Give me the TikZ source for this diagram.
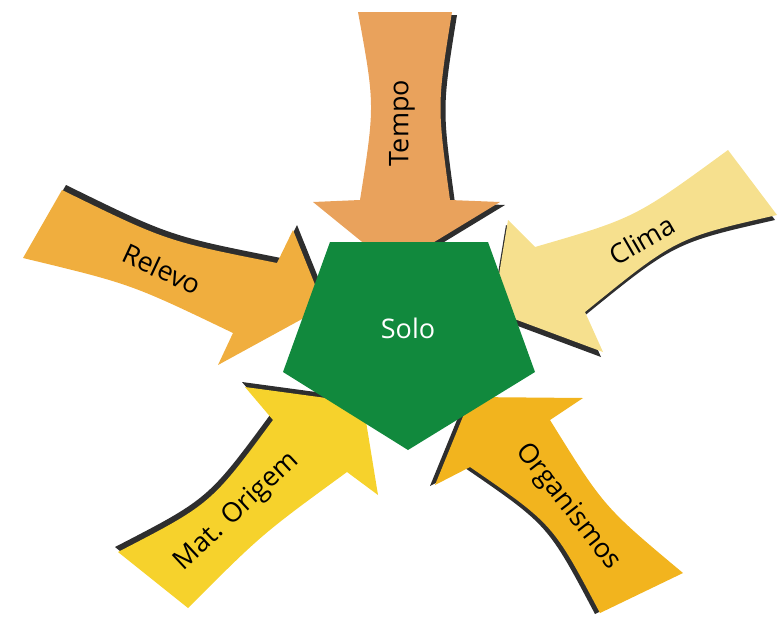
\documentclass[tikz,border=0pt]{standalone}
\usepackage{xcolor}
\usepackage{fontspec}
\setmainfont{Open Sans}
\usepackage{tikz}

\definecolor{corTempo}{HTML}{E9A25C}
\definecolor{corRelevo}{HTML}{F0AE3E}
\definecolor{corClima}{HTML}{F6E08E}
\definecolor{corOrigem}{HTML}{F6D22C}
\definecolor{corOrg}{HTML}{F2B41E}
\definecolor{corSolo}{HTML}{11893D}
\definecolor{sombra}{HTML}{2E2E2E}

\begin{document}
\begin{tikzpicture}[x=1pt,y=-1pt,
      seta/.style 2 args={fill=#1,preaction={fill=sombra,transform canvas={shift={#2}}}},
      rotulo/.style={font=\fontsize{27}{30}\selectfont,inner sep=0pt}]
    \useasboundingbox (0,0) rectangle (778,616);
    % setas
    \fill[seta={corTempo}{(5,3)}] (358,12) -- (452,12) .. controls (437,105) .. (450,200)
      -- (500,202) -- (393,267) -- (313,202) -- (360,200) .. controls (375,105) .. (358,12) -- cycle;
    \fill[seta={corRelevo}{(4,-5)}] (62,190) .. controls (166,241) .. (277,263)
      -- (293,230) -- (324,307) -- (218,365) -- (233,333) .. controls (131,284) .. (23,258) -- cycle;
    \fill[seta={corClima}{(-2,5)}] (728,150) .. controls (635,218) .. (535,247)
      -- (508,220) -- (493,311) -- (603,352) -- (585,312) .. controls (676,238) .. (777,215) -- cycle;
    \fill[seta={corOrigem}{(-3,-5)}] (118,552) .. controls (211,504) .. (273,420)
      -- (245,387) -- (363,403) -- (378,495) -- (347,472) .. controls (262,534) .. (188,608) -- cycle;
    \fill[seta={corOrg}{(-5,1)}] (600,613) .. controls (553,524) .. (470,467)
      -- (435,485) -- (471,397) -- (583,398) -- (550,420) .. controls (604,507) .. (683,573) -- cycle;
    % solo
    \fill[corSolo] (330,242) -- (488,242) -- (535,372) -- (408,450) -- (283,372) -- cycle;
    \node[rotulo,text=white] (solo) at (408,328) {Solo};
    \foreach \nome/\txt/\px/\py/\ang in {tempo/Tempo/402/123/90,relevo/Relevo/162/269/-25,
        clima/Clima/642/240/30,origem/Mat. Origem/237/512/43,org/Organismos/568/507/-52} {
      \node[rotulo,rotate=\ang] (\nome) at (\px,\py) {\txt};
    }
  \end{tikzpicture}
\end{document}
